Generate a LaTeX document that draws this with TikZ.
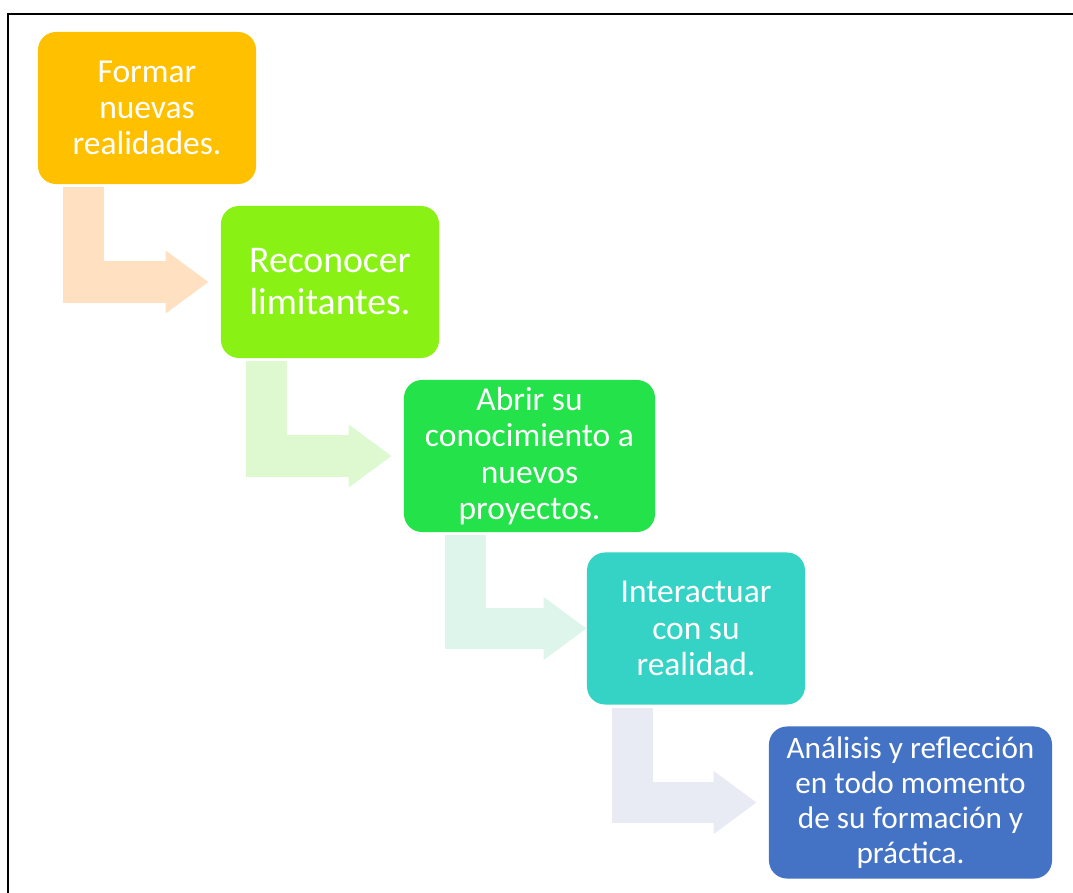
\documentclass[tikz,border=0pt]{standalone}
\usepackage{fontspec}
\setmainfont{Carlito}
\usetikzlibrary{arrows.meta}

\definecolor{naranja}{HTML}{FFC000}
\definecolor{lima}{HTML}{8AF115}
\definecolor{verde}{HTML}{24E24A}
\definecolor{turquesa}{HTML}{35D3C5}
\definecolor{azul}{HTML}{4472C4}
\definecolor{naranjaclaro}{HTML}{FFE1C2}
\definecolor{limaclaro}{HTML}{DEF8D0}
\definecolor{verdeclaro}{HTML}{DDF5EA}
\definecolor{azulclaro}{HTML}{E8EAF4}

\tikzset{
    caja/.style={rounded corners=0.45cm, minimum width=5.45cm, minimum height=3.8cm,
        text=white, align=center, inner sep=0pt, font=\fontsize{23.8}{25.8}\selectfont},
    flecha/.style={line width=1.025cm, -{Triangle[length=1.075cm,width=1.5cm]},
        shorten <=0.075cm, shorten >=0.3cm}
}

\begin{document}
\begin{tikzpicture}[x=0.025cm, y=-0.025cm]
        \useasboundingbox (0,0) rectangle (1073,893);
        \draw[line width=1.9pt] (1073,14) -- (8,14) -- (8,893);

        \draw (147,108) node [caja, fill=naranja] (1) {Formar\\nuevas\\realidades.};
        \draw (330,282) node [caja, fill=lima, font=\fontsize{26.8}{29.9}\selectfont] (2) {Reconocer\\limitantes.};
        \draw (529.5,456) node [caja, fill=verde, minimum width=6.275cm] (3) {Abrir su\\conocimiento a\\nuevos\\proyectos.};
        \draw (696,628.5) node [caja, fill=turquesa] (4) {Interactuar\\con su\\realidad.};
        \draw (910.5,802.5) node [caja, fill=azul, minimum width=7.075cm, font=\fontsize{22.2}{25}\selectfont] (5) {Análisis y reflección\\en todo momento\\de su formación y\\práctica.};

        \draw[flecha, naranjaclaro] ([xshift=-1.5875cm]1.south) |- (2.west);
        \draw[flecha, limaclaro] ([xshift=-1.5875cm]2.south) |- (3.west);
        \draw[flecha, verdeclaro, shorten >=0cm] ([xshift=-1.5875cm]3.south) |- (4.west);
        \draw[flecha, azulclaro] ([xshift=-1.5875cm]4.south) |- (5.west);
\end{tikzpicture}
\end{document}
